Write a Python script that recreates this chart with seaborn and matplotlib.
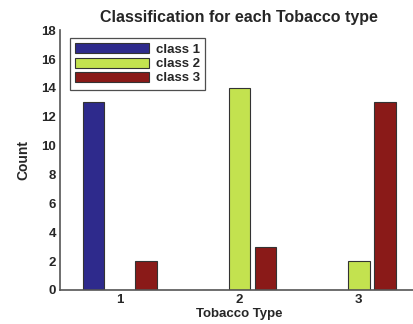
import pandas as pd
import numpy as np
import matplotlib
matplotlib.use('Agg')
import matplotlib.pyplot as plt
import seaborn as sns

# data
tobacco_types = ['1', '2', '3']
class_names = ['class 1', 'class 2', 'class 3']
class1 = [13, 0, 0]
class2 = [0, 14, 2]
class3 = [2, 3, 13]
colors = ['#2e2a8c', '#c3e24f', '#8a1a18']

df = pd.DataFrame({
    'Tobacco Type': tobacco_types * 3,
    'Count': class1 + class2 + class3,
    'cls': [c for c in class_names for _ in tobacco_types],
})

sns.set_style('white')
plt.rcParams['font.family'] = ['Liberation Sans', 'DejaVu Sans']
plt.rcParams['font.weight'] = 'bold'

fig = plt.figure(figsize=(4.14, 3.24), dpi=100)
ax = fig.add_axes([0.145, 0.105, 0.866, 0.802])

sns.barplot(data=df, x='Tobacco Type', y='Count', hue='cls', palette=colors,
            saturation=1, width=0.66, gap=0.18, edgecolor='#333333',
            linewidth=0.8, ax=ax)

ax.set_xlim(-0.5, 2.5)
ax.set_ylim(0, 18)
ax.set_yticks(range(0, 19, 2))
ax.tick_params(direction='in', length=3, labelsize=9.5, width=0.8, color='#555555', pad=3)
for s in ['top', 'right']:
    ax.spines[s].set_visible(False)
for s in ['left', 'bottom']:
    ax.spines[s].set_color('#555555')
    ax.spines[s].set_linewidth(1.2)

ax.set_title('Classification for each Tobacco type', fontsize=11.5, fontweight='bold', pad=6)
ax.set_xlabel('Tobacco Type', fontsize=9.5, fontweight='bold', labelpad=1)
ax.set_ylabel('Count', fontsize=10, fontweight='bold', labelpad=8)

leg = ax.legend(loc='upper left', bbox_to_anchor=(0.01, 0.995), fontsize=9.5,
                handlelength=5.6, handleheight=0.8, labelspacing=0.12,
                borderpad=0.4, handletextpad=0.5, fancybox=False,
                frameon=True, edgecolor='#222222')
leg.get_frame().set_linewidth(0.9)
leg.set_title(None)

fig.savefig('out.png', dpi=100)
